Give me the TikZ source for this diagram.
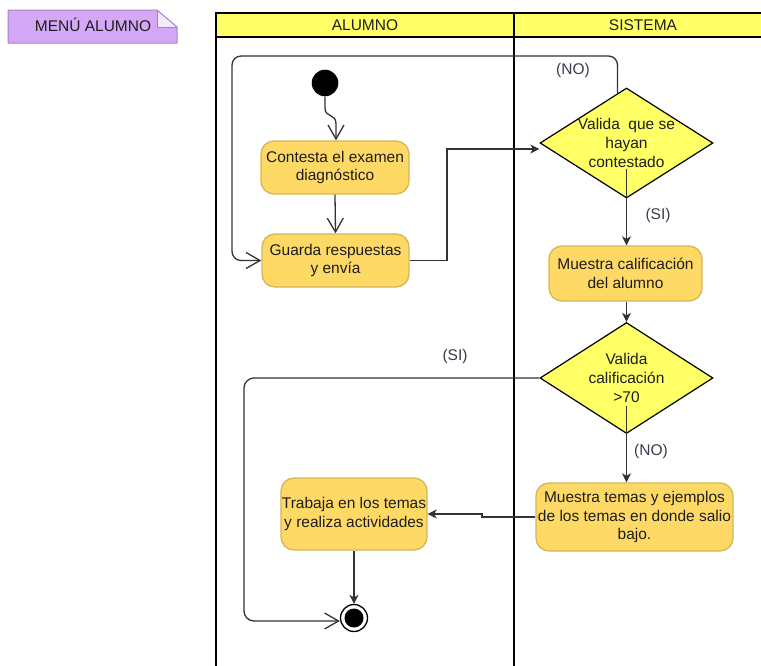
\documentclass[tikz,border=0pt]{standalone}
\usepackage{fontspec}
\setmainfont{Liberation Sans}
\usetikzlibrary{shapes.geometric,arrows.meta}
\definecolor{boxfill}{HTML}{FFD966}
\definecolor{boxline}{HTML}{D6B656}
\definecolor{yel}{HTML}{FFFF66}
\definecolor{notefill}{HTML}{D4A8F5}
\definecolor{notefold}{HTML}{F4EAFB}
\definecolor{noteline}{HTML}{A97FCB}
\definecolor{conn}{HTML}{333333}
\definecolor{txt}{HTML}{1E1E1E}
\definecolor{lbltxt}{HTML}{3A3A4A}
\begin{document}
\begin{tikzpicture}[x=1pt,y=-1pt,
  every node/.style={font=\fontsize{15.5}{18.7}\selectfont, text=txt},
  act/.style={draw=boxline, fill=boxfill, rounded corners=13pt, line width=1.3pt, align=center, inner sep=0pt},
  dec/.style={diamond, draw=black, fill=yel, line width=1.2pt, inner sep=0pt},
  flow/.style={draw=conn, line width=1.3pt},
  openarr/.style={flow, -{Straight Barb[length=14pt,width=16pt,line width=1.3pt]}},
  fillarr/.style={flow, -{Stealth[length=9pt,width=9pt,inset=2.5pt]}},
  lane/.style={draw=black, line width=2.4pt},
  lbl/.style={text=lbltxt}
]
\clip (0,0) rectangle (761,665);
\fill[white] (0,0) rectangle (761,665);

% note
\fill[notefill] (8,10) -- (157,10) -- (177,27) -- (177,43) -- (8,43) -- cycle;
\fill[notefold] (157,10) -- (177,27) -- (157,27) -- cycle;
\draw[noteline, line width=1pt, line join=round] (8,10) -- (157,10) -- (177,27) -- (177,43) -- (8,43) -- cycle;
\draw[noteline, line width=1pt, line join=round] (157,10) -- (157,27) -- (177,27);
\node (note) at (93,25) {MENÚ ALUMNO};

% swimlanes
\draw[lane, fill=yel] (216,13) rectangle (766,37);
\draw[lane] (216,37) -- (216,670);
\draw[lane] (514,13) -- (514,670);
\node (hA) at (365,25.5) {ALUMNO};
\node (hS) at (643,25.5) {SISTEMA};

% nodes
\node[circle, fill=black, minimum size=26.6pt, inner sep=0pt] (s) at (325,83) {};
\node[act, minimum width=148pt, minimum height=53pt] (c1) at (335,167.5) {Contesta el examen\\diagnóstico};
\node[act, minimum width=147pt, minimum height=53pt] (g) at (335.5,260.5) {Guarda respuestas\\y envía};
\node[dec, minimum width=173pt, minimum height=110pt,
      label={[align=center, text=txt]center:Valida~ que se\\hayan\\contestado}] (d1) at (626.5,143) {};
\node[act, minimum width=153pt, minimum height=55pt] (m1) at (625.5,273.5) {Muestra calificación\\del alumno};
\node[dec, minimum width=173pt, minimum height=111pt,
      label={[align=center, text=txt]center:Valida\\calificación\\>70}] (d2) at (626.5,378) {};
\node[act, minimum width=197pt, minimum height=68pt] (mt) at (634.5,517) {Muestra temas y ejemplos\\de los temas en donde salio\\bajo.};
\node[act, minimum width=146pt, minimum height=72pt] (tr) at (354,514) {Trabaja en los temas\\y realiza actividades};
\node[circle, draw=black, line width=1.3pt, fill=white, minimum size=27pt, inner sep=0pt] (e) at (354,618) {};
\fill[black] (e.center) circle[radius=9.5pt];

% connectors
\draw[openarr] (s.south) -- (325,108) .. controls (325,118) and (336,113) .. (336,124) -- (c1.north -| 336,0);
\draw[openarr] (c1.south) -- (g.north);
\draw[openarr, rounded corners=9pt] ([xshift=-9pt,yshift=-5.7pt]d1.north) |- (232,56) |- (g.west);
\draw[fillarr] (g.east) -| (447,149) -- ([yshift=-6pt]d1.west);
\draw[fillarr] ([yshift=30pt]d1.south) -- (m1.north -| d1.south);
\draw[fillarr] (m1.south -| d2.north) -- (d2.north);
\draw[fillarr] ([yshift=28pt]d2.south) -- (d2.south |- mt.north);
\draw[openarr, rounded corners=10pt] (d2.west) -| (244,621) -- ([yshift=-3pt]e.west);
\draw[fillarr] (mt.west) -| (482,514) -- (tr.east);
\draw[fillarr] (tr.south) -- (e.north);

% labels
\node[lbl] (lno1) at (573,70) {(NO)};
\node[lbl] (lsi1) at (658,215) {(SI)};
\node[lbl] (lsi2) at (455,356) {(SI)};
\node[lbl] (lno2) at (651,451) {(NO)};
\end{tikzpicture}
\end{document}
